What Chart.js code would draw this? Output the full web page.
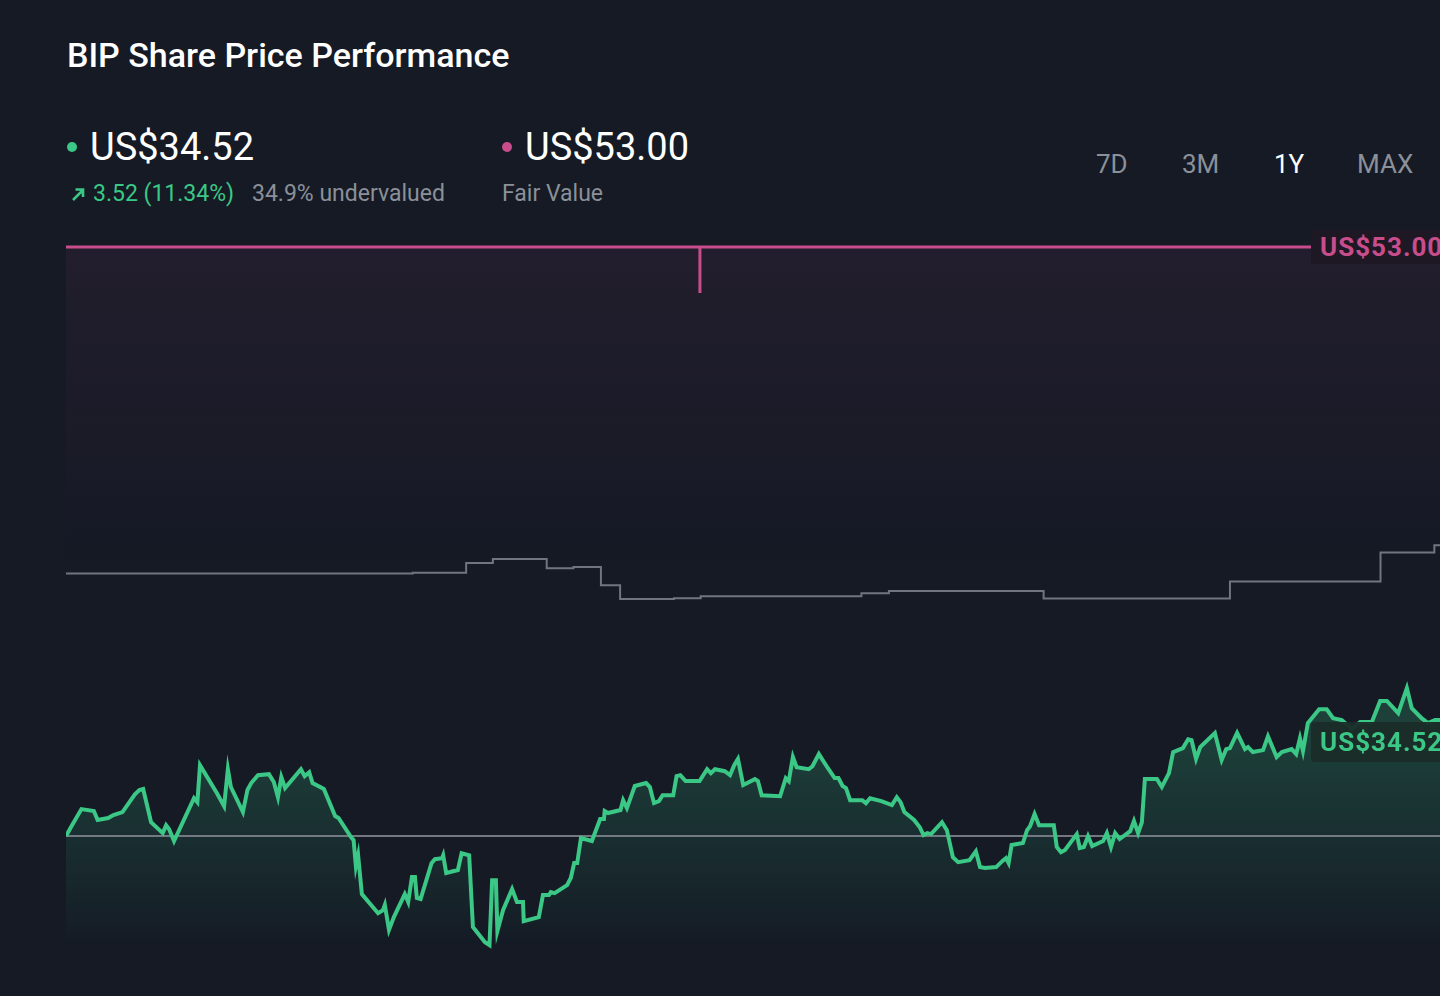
<!DOCTYPE html>
<html>
<head>
<meta charset="utf-8">
<title>BIP Share Price Performance</title>
<script src="https://cdn.jsdelivr.net/npm/chart.js@4.4.1/dist/chart.umd.min.js"></script>
<style>
  html, body { margin: 0; padding: 0; width: 1440px; height: 996px; overflow: hidden; background: #151a25; font-family: Roboto, "Noto Sans", sans-serif; }
  .titulo { position: absolute; left: 67px; top: 35px; font-size: 34px; line-height: 40px; font-weight: 500; color: #ffffff; white-space: nowrap; }
  .preco { position: absolute; top: 125px; font-size: 38px; line-height: 44px; color: #ffffff; white-space: nowrap; }
  .ponto { position: absolute; width: 10px; height: 10px; border-radius: 50%; }
  .sub { position: absolute; top: 181px; font-size: 23px; line-height: 26px; color: #8b9099; white-space: nowrap; }
  .verde { color: #3bc886; }
  .periodo { position: absolute; top: 149px; font-size: 26px; line-height: 30px; color: #8b9099; }
  .periodo.ativo { color: #ffffff; }
  #area { position: absolute; left: 66px; top: 230px; width: 1374px; height: 743px; }
  .etiqueta { position: absolute; font-size: 26px; line-height: 34px; font-weight: 700; letter-spacing: 1px; padding: 0 9px; border-radius: 4px; white-space: nowrap; }
  #etiqueta-justo { color: #c74d8c; background: #1e1824; }
  #etiqueta-preco { color: #3bc886; background: rgba(26, 44, 40, 0.95); line-height: 40px; }
</style>
</head>
<body>
<div class="titulo">BIP Share Price Performance</div>

<div class="ponto" style="left:67px; top:142px; background:#3bc886;"></div>
<div class="preco" style="left:90px;">US$34.52</div>
<svg style="position:absolute; left:70px; top:186px;" width="16" height="16" viewBox="0 0 16 16">
  <path d="M3 14 L13 4 M5.5 3.5 H13 V11" stroke="#3bc886" stroke-width="2.6" fill="none"/>
</svg>
<div class="sub verde" style="left:93px;">3.52 (11.34%)</div>
<div class="sub" style="left:252px;">34.9% undervalued</div>

<div class="ponto" style="left:502px; top:142px; background:#c74d8c;"></div>
<div class="preco" style="left:525px;">US$53.00</div>
<div class="sub" style="left:502px;">Fair Value</div>

<div id="periodos"></div>

<div id="area">
  <canvas id="grafico-preco"></canvas>
  <div class="etiqueta" id="etiqueta-justo">US$53.00</div>
  <div class="etiqueta" id="etiqueta-preco">US$34.52</div>
</div>

<script>
// ===== dados do gráfico (1Y) =====
const periodos = ['7D', '3M', '1Y', 'MAX']
const periodoAtivo = '1Y'
const periodoPosicoes = [1096, 1182, 1274, 1357]

// dias desde o início do período
const diasPreco = [
  0, 1.3, 4.1, 7.4, 8.4, 11.2, 12.6, 15.0, 18.3, 19.5,
  20.5, 22.6, 25.7, 26.6, 27.4, 28.7, 34.0, 34.9, 35.6, 40.1,
  42.0, 43.0, 43.8, 47.0, 48.2, 49.2, 51.0, 53.9, 55.2, 56.3,
  57.2, 58.2, 62.4, 63.4, 64.6, 65.5, 68.5, 71.5, 72.4, 75.7,
  76.4, 77.0, 77.6, 78.6, 82.9, 84.2, 84.7, 85.8, 87.1, 90.0,
  90.9, 91.9, 92.7, 93.2, 94.2, 97.1, 98.0, 99.9, 100.2, 101.0,
  104.1, 105.1, 107.1, 108.1, 111.3, 112.5, 113.2, 114.2, 114.6, 116.1,
  118.5, 119.8, 121.4, 121.6, 125.6, 126.7, 128.3, 128.8, 129.8, 133.1,
  134.1, 135.0, 135.8, 136.8, 139.7, 141.9, 142.9, 143.1, 144.0, 147.3,
  148.0, 149.0, 151.1, 154.1, 155.1, 156.2, 157.5, 158.5, 161.3, 162.2,
  163.2, 164.6, 168.3, 170.3, 171.3, 172.4, 175.0, 176.4, 177.5, 178.5,
  179.9, 183.0, 183.8, 184.8, 189.7, 191.2, 192.0, 193.1, 194.1, 197.3,
  198.3, 200.0, 202.4, 204.2, 205.2, 206.3, 207.2, 208.3, 211.5, 212.5,
  213.6, 216.6, 219.4, 220.7, 221.7, 222.7, 225.3, 226.8, 227.8, 228.8,
  229.8, 232.7, 234.0, 235.6, 237.0, 240.0, 241.7, 242.8, 244.1, 247.1,
  248.7, 249.7, 250.4, 251.2, 254.2, 255.3, 256.1, 257.3, 258.5, 262.4,
  263.2, 264.3, 265.4, 268.5, 269.3, 270.4, 271.5, 272.6, 275.5, 276.5,
  277.6, 278.7, 279.9, 282.7, 283.7, 284.8, 285.8, 286.6, 289.8, 291.1,
  293.0, 294.1, 296.7, 298.1, 299.0, 300.2, 301.3, 305.2, 307.0, 308.2,
  309.2, 311.1, 313.2, 314.0, 315.3, 318.0, 319.3, 321.6, 323.0, 325.6,
  326.8, 327.8, 328.6, 329.9, 332.9, 334.9, 336.6, 338.9, 341.6, 343.8,
  346.9, 349.1, 350.9, 353.9, 356.2, 357.5, 360.1, 361.8, 363.7, 365
]

// preço de fechamento (US$)
const precos = [
  31.00, 31.27, 31.82, 31.76, 31.49, 31.55, 31.64, 31.73, 32.27, 32.40,
  32.43, 31.42, 31.09, 31.33, 31.21, 30.85, 32.15, 32.03, 33.15, 32.30,
  31.91, 33.03, 32.49, 31.73, 32.40, 32.61, 32.85, 32.88, 32.64, 32.18,
  32.79, 32.46, 33.03, 32.82, 32.94, 32.61, 32.43, 31.61, 31.55, 30.97,
  30.88, 30.09, 30.42, 29.24, 28.66, 28.75, 28.91, 28.15, 28.54, 29.24,
  29.00, 29.76, 29.76, 29.12, 29.09, 30.18, 30.30, 30.33, 30.42, 29.88,
  29.97, 30.48, 30.42, 28.24, 27.78, 27.69, 29.66, 29.66, 28.12, 28.75,
  29.39, 29.00, 29.00, 28.42, 28.54, 29.21, 29.21, 29.30, 29.27, 29.51,
  29.73, 30.18, 30.18, 30.94, 30.85, 31.52, 31.52, 31.76, 31.70, 31.79,
  32.09, 31.85, 32.52, 32.61, 32.49, 32.00, 32.06, 32.24, 32.24, 32.82,
  32.85, 32.67, 32.67, 33.03, 32.91, 33.03, 32.97, 32.85, 33.15, 33.34,
  32.55, 32.73, 32.67, 32.24, 32.21, 32.76, 32.67, 33.40, 33.09, 33.03,
  33.12, 33.49, 33.06, 32.76, 32.76, 32.52, 32.46, 32.09, 32.09, 32.00,
  32.15, 32.06, 31.94, 32.18, 32.03, 31.73, 31.49, 31.27, 31.03, 31.09,
  31.06, 31.42, 31.18, 30.36, 30.21, 30.27, 30.54, 30.06, 30.03, 30.06,
  30.24, 30.33, 30.18, 30.73, 30.79, 31.18, 31.30, 31.67, 31.33, 31.33,
  30.67, 30.51, 30.58, 31.06, 30.64, 30.67, 31.00, 30.70, 30.85, 31.09,
  30.67, 31.09, 30.91, 31.15, 31.46, 31.09, 31.42, 32.73, 32.73, 32.49,
  32.91, 33.55, 33.67, 33.94, 33.91, 33.34, 33.70, 34.13, 33.31, 33.64,
  33.67, 34.13, 33.64, 33.70, 33.55, 33.61, 34.03, 33.40, 33.55, 33.64,
  33.49, 33.97, 33.58, 34.43, 34.85, 34.85, 34.58, 34.52, 34.25, 34.46,
  34.46, 35.10, 35.10, 34.73, 35.49, 34.88, 34.58, 34.43, 34.52, 34.52
]

// preço-alvo médio (linha em degraus)
const diasAlvo = [0, 92.1, 106.3, 113.4, 127.7, 134.8, 142.1, 147.2, 161.5, 168.6, 211.3, 218.6, 259.7, 309.2, 349.2, 363.5, 365]
const precosAlvo = [38.97, 38.99, 39.29, 39.41, 39.13, 39.17, 38.61, 38.20, 38.22, 38.28, 38.37, 38.44, 38.21, 38.73, 39.61, 39.83, 39.83]

const precoInicial = 31.00
const precoAtual = 34.52
const valorJusto = 53.00
const diaMarcaValorJusto = 168.4

// limites do eixo
const eixoXMin = 0
const eixoXMax = 365
const eixoYMin = 27.3
const eixoYMax = 48.88
const fimDegrade = 27.6 // onde o preenchimento verde some

// ===== botões de período =====
const caixaPeriodos = document.querySelector('#periodos')
periodos.forEach((p, i) => {
    const el = document.createElement('div')
    el.className = 'periodo' + (p === periodoAtivo ? ' ativo' : '')
    el.style.left = periodoPosicoes[i] + 'px'
    el.textContent = p
    caixaPeriodos.appendChild(el)
})

const verde = 'rgb(59, 200, 134)'
const rosa = 'rgb(199, 77, 140)'

// linha do valor justo (fica presa no topo quando passa do eixo) + etiquetas
const pluginValorJusto = {
    id: 'valorJusto',
    beforeDatasetsDraw(chart) {
        const { ctx, chartArea, scales } = chart
        const y = Math.max(chartArea.top, scales.y.getPixelForValue(valorJusto))
        const grad = ctx.createLinearGradient(0, y, 0, y + 320)
        grad.addColorStop(0, 'rgba(199, 77, 140, 0.08)')
        grad.addColorStop(1, 'rgba(199, 77, 140, 0)')
        ctx.save()
        ctx.fillStyle = grad
        ctx.fillRect(chartArea.left, y, chartArea.right - chartArea.left, 320)
        ctx.strokeStyle = rosa
        ctx.lineWidth = 3
        ctx.beginPath()
        ctx.moveTo(chartArea.left, y)
        ctx.lineTo(chartArea.right, y)
        const xm = scales.x.getPixelForValue(diaMarcaValorJusto)
        ctx.moveTo(xm, y)
        ctx.lineTo(xm, y + 46)
        ctx.stroke()
        ctx.restore()
    },
    afterRender(chart) {
        const { chartArea, scales } = chart
        const yJusto = Math.max(chartArea.top, scales.y.getPixelForValue(valorJusto))
        const yPreco = scales.y.getPixelForValue(precoAtual)
        const ej = document.querySelector('#etiqueta-justo')
        const ep = document.querySelector('#etiqueta-preco')
        ej.style.left = (chartArea.right - 129) + 'px'
        ej.style.top = (yJusto - 17) + 'px'
        ep.style.left = (chartArea.right - 129) + 'px'
        ep.style.top = (yPreco + 2) + 'px'
    }
}

const ctx = document.getElementById('grafico-preco')
new Chart(ctx, {
    type: 'line',
    data: {
        datasets: [
            {
                label: 'Preço',
                data: diasPreco.map((d, i) => ({ x: d, y: precos[i] })),
                borderColor: verde,
                borderWidth: 4,
                pointRadius: 0,
                tension: 0,
                order: 1,
                fill: 'start',
                backgroundColor: (c) => {
                    const area = c.chart.chartArea
                    if (!area) return 'rgba(59, 200, 134, 0.1)'
                    const esc = c.chart.scales.y
                    const g = c.chart.ctx.createLinearGradient(0, esc.getPixelForValue(precoInicial + 3), 0, esc.getPixelForValue(fimDegrade))
                    g.addColorStop(0, 'rgba(59, 200, 134, 0.22)')
                    g.addColorStop(0.8, 'rgba(59, 200, 134, 0.05)')
                    g.addColorStop(1, 'rgba(59, 200, 134, 0)')
                    return g
                }
            },
            {
                label: 'Início',
                data: [{ x: eixoXMin, y: precoInicial }, { x: eixoXMax, y: precoInicial }],
                borderColor: 'rgba(125, 130, 140, 0.9)',
                borderWidth: 2,
                pointRadius: 0,
                order: 2
            },
            {
                label: 'Preço-alvo',
                data: diasAlvo.map((d, i) => ({ x: d, y: precosAlvo[i] })),
                borderColor: 'rgb(112, 117, 127)',
                borderWidth: 2,
                pointRadius: 0,
                stepped: true,
                order: 3
            }
        ]
    },
    options: {
        responsive: true,
        maintainAspectRatio: false,
        animation: false,
        layout: { padding: { top: 17, bottom: 15, left: 0, right: 0 } },
        scales: {
            x: { type: 'linear', min: eixoXMin, max: eixoXMax, display: false },
            y: { min: eixoYMin, max: eixoYMax, display: false }
        },
        plugins: {
            legend: { display: false },
            tooltip: { enabled: false },
            filler: { drawTime: 'beforeDatasetsDraw' }
        }
    },
    plugins: [pluginValorJusto]
})
</script>
</body>
</html>
